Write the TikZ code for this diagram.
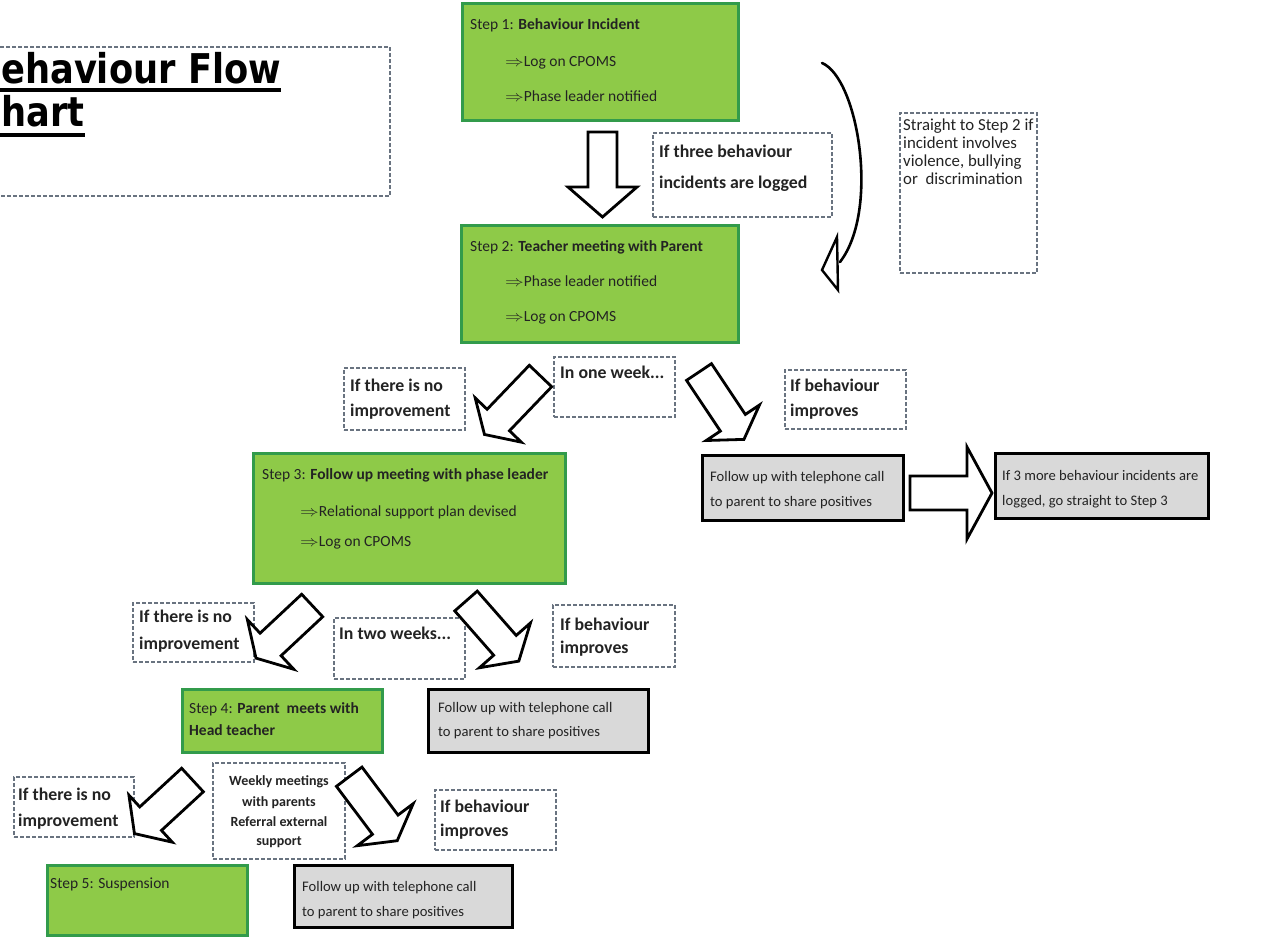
\documentclass[tikz,border=0pt]{standalone}
\usepackage{graphicx}
\usepackage{fontspec}
\setmainfont{Carlito}
\newfontfamily\titlefont[FakeStretch=0.86]{DejaVu Sans}
\usetikzlibrary{fit}
\definecolor{stepfill}{RGB}{142,202,72}
\definecolor{stepborder}{RGB}{50,155,75}
\definecolor{boxgray}{RGB}{217,217,217}
\definecolor{dashgray}{RGB}{105,115,128}
\definecolor{textc}{RGB}{35,35,35}
\newcommand\darr{\scalebox{1.3}[1.05]{$\Rightarrow$}}
\newcommand\blkarrow[7]{%
  \begin{scope}[shift={(#1,#2)},rotate=#3]
    \draw[barrow] (0,-#6) -- ({#4-#5},-#6) -- ({#4-#5},-#7) -- (#4,0) -- ({#4-#5},#7) -- ({#4-#5},#6) -- (0,#6) -- cycle;
  \end{scope}}
\tikzset{
  greenbox/.style={draw=stepborder, fill=stepfill, line width=3pt, inner sep=0pt},
  graybox/.style={draw=black, fill=boxgray, line width=3pt, inner sep=0pt},
  dbox/.style={draw=dashgray, line width=1.1pt, dash pattern=on 4pt off 2pt, inner sep=0pt},
  barrow/.style={draw=black, fill=white, line width=2.8pt, line join=miter},
  txt/.style={anchor=base west, inner sep=0pt, text=textc},
  stepf/.style={font=\fontsize{15.5}{18}\selectfont},
  lblf/.style={font=\bfseries\fontsize{17.8}{20}\selectfont},
  sidef/.style={font=\fontsize{16.8}{18}\selectfont},
  grayf/.style={font=\fontsize{14.6}{17}\selectfont},
  weekf/.style={font=\bfseries\fontsize{14}{16}\selectfont},
  titlef/.style={font=\titlefont\bfseries\fontsize{41}{41}\selectfont},
}
\begin{document}
\begin{tikzpicture}[x=1pt,y=-1pt]
\useasboundingbox (0,0) rectangle (1265,938);
\fill[white] (0,0) rectangle (1265,938);

% title
\node[dbox, fit={(-5,47) (390,196)}] (titlebox) {};
\node[titlef, anchor=base west, inner sep=0pt] (t1) at (1,83) {\llap{B}ehaviour Flow};
\node[titlef, anchor=base west, inner sep=0pt] (t2) at (1,126) {\llap{C}hart};
\draw[line width=4pt] ([xshift=-4pt,yshift=-7pt]t1.base west) -- ([yshift=-7pt]t1.base east);
\draw[line width=4pt] ([xshift=-4pt,yshift=-9pt]t2.base west) -- ([yshift=-9pt]t2.base east);

% boxes
\node[greenbox, fit={(462,3) (738,120)}] (s1) {};
\node[dbox, fit={(653,133) (832,217)}] (three) {};
\node[dbox, fit={(900,113) (1037,273)}] (side) {};
\node[greenbox, fit={(461,225) (738,342)}] (s2) {};
\node[dbox, fit={(344,368) (465,430)}] (no1) {};
\node[dbox, fit={(554,357) (675,417)}] (wk1) {};
\node[dbox, fit={(785,370) (906,429)}] (imp1) {};
\node[greenbox, fit={(253,453) (565,583)}] (s3) {};
\node[graybox, fit={(702,455) (903,520)}] (g1) {};
\node[graybox, fit={(995,453) (1208,518)}] (g2) {};
\node[dbox, fit={(133,603) (254,662)}] (no2) {};
\node[dbox, fit={(334,618) (465,679)}] (wk2) {};
\node[dbox, fit={(553,605) (675,667)}] (imp2) {};
\node[greenbox, fit={(182,689) (382,752)}] (s4) {};
\node[graybox, fit={(428,689) (648,752)}] (g3) {};
\node[dbox, fit={(14,777) (134,837)}] (no3) {};
\node[dbox, fit={(213,763) (345,859)}] (weekly) {};
\node[dbox, fit={(435,790) (556,850)}] (imp3) {};
\node[greenbox, fit={(47,865) (247,935)}] (s5) {};
\node[graybox, fit={(294,865) (512,927)}] (g4) {};

% block arrows: x, y, angle, length, head length, half shaft, half head
\blkarrow{602.5}{132}{-90}{85}{30}{14.5}{34.5}
\blkarrow{540.5}{376}{-133.8}{81}{20}{15.5}{32}
\blkarrow{699}{372}{-56.3}{81}{20}{15}{32}
\blkarrow{312.2}{605.5}{-136.9}{77}{20}{15.4}{34}
\blkarrow{466}{601}{-48.7}{80}{21}{15}{34}
\blkarrow{192.5}{780}{-137.3}{79}{22}{16}{32}
\blkarrow{349.2}{776.7}{-53.1}{80}{20}{16}{35}
\blkarrow{910}{493}{0}{82}{25}{17}{46}

% curved arrow
\coordinate (cstart) at (822,63);
\coordinate (cend) at (840,262);
\draw[line width=2.6pt, line cap=round] (cstart) .. controls (858,78) and (880,210) .. (cend);
\draw[line width=2.4pt, fill=white, line join=miter] (837,237) -- (822,270) -- (838,290) -- cycle;

% texts
\node[txt,stepf] (s1a) at (470,29) {Step 1: \textbf{Behaviour Incident}};
\node[txt,stepf] (s1b) at (505,66) {\darr Log on CPOMS};
\node[txt,stepf] (s1c) at (505,101) {\darr Phase leader notified};

\node[txt,lblf] (th1) at (659,157) {If three behaviour};
\node[txt,lblf] (th2) at (659,188) {incidents are logged};

\node[txt,sidef] (sd1) at (903,130) {Straight to Step 2 if};
\node[txt,sidef] (sd2) at (903,148) {incident involves};
\node[txt,sidef] (sd3) at (903,166) {violence, bullying};
\node[txt,sidef] (sd4) at (903,184) {or\ \ discrimination};

\node[txt,stepf] (s2a) at (470,251) {Step 2: \textbf{Teacher meeting with Parent}};
\node[txt,stepf] (s2b) at (505,286) {\darr Phase leader notified};
\node[txt,stepf] (s2c) at (505,321) {\darr Log on CPOMS};

\node[txt,lblf] (n1a) at (350,391) {If there is no};
\node[txt,lblf] (n1b) at (350,416) {improvement};
\node[txt,lblf] (w1) at (560,378) {In one week...};
\node[txt,lblf] (i1a) at (790,391) {If behaviour};
\node[txt,lblf] (i1b) at (790,416) {improves};

\node[txt,stepf] (s3a) at (262,479) {Step 3: \textbf{Follow up meeting with phase leader}};
\node[txt,stepf] (s3b) at (300,516) {\darr Relational support plan devised};
\node[txt,stepf] (s3c) at (300,546) {\darr Log on CPOMS};

\node[txt,grayf] (g1a) at (710,481) {Follow up with telephone call};
\node[txt,grayf] (g1b) at (710,506) {to parent to share positives};
\node[txt,grayf] (g2a) at (1002,480) {If 3 more behaviour incidents are};
\node[txt,grayf] (g2b) at (1002,505) {logged, go straight to Step 3};

\node[txt,lblf] (n2a) at (139,622) {If there is no};
\node[txt,lblf] (n2b) at (139,649) {improvement};
\node[txt,lblf] (w2) at (339,639) {In two weeks...};
\node[txt,lblf] (i2a) at (560,630) {If behaviour};
\node[txt,lblf] (i2b) at (560,653) {improves};

\node[txt,stepf] (s4a) at (189,713) {Step 4: \textbf{Parent\ \ meets with}};
\node[txt,stepf] (s4b) at (189,735) {\textbf{Head teacher}};
\node[txt,grayf] (g3a) at (438,712) {Follow up with telephone call};
\node[txt,grayf] (g3b) at (438,736) {to parent to share positives};

\node[txt,lblf] (n3a) at (18,800) {If there is no};
\node[txt,lblf] (n3b) at (18,826) {improvement};
\node[txt,weekf,anchor=base] (wa) at (279,785) {Weekly meetings};
\node[txt,weekf,anchor=base] (wb) at (279,806) {with parents};
\node[txt,weekf,anchor=base] (wc) at (279,826) {Referral external};
\node[txt,weekf,anchor=base] (wd) at (279,845) {support};
\node[txt,lblf] (i3a) at (440,812) {If behaviour};
\node[txt,lblf] (i3b) at (440,836) {improves};

\node[txt,stepf] (s5a) at (50,888) {Step 5: Suspension};
\node[txt,grayf] (g4a) at (302,891) {Follow up with telephone call};
\node[txt,grayf] (g4b) at (302,916) {to parent to share positives};
\end{tikzpicture}
\end{document}
